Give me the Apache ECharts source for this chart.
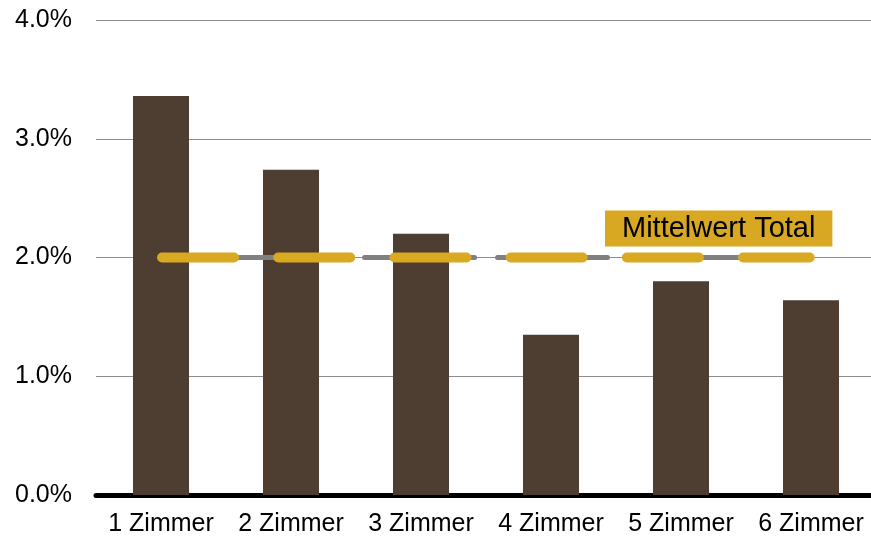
<!DOCTYPE html>
<html>
<head>
<meta charset="utf-8">
<script src="https://cdn.jsdelivr.net/npm/echarts@6/dist/echarts.min.js"></script>
<style>html,body{margin:0;padding:0;background:#fff}#c{width:871px;height:541px}</style>
</head>
<body>
<div id="c"></div>
<script>
const categories = ['1 Zimmer', '2 Zimmer', '3 Zimmer', '4 Zimmer', '5 Zimmer', '6 Zimmer'];
const values = [3.36, 2.74, 2.20, 1.35, 1.80, 1.64];
const yTicks = [0, 1, 2, 3, 4];
const meanValue = 2.0;
const meanLabel = 'Mittelwert Total';
const meanSpan = [0.508, 5.49];   // extent of the mean line along the category axis (in category units)
const meanLabelAt = 4.79;

const FONT = 'Liberation Sans, Arial, sans-serif';
const chart = echarts.init(document.getElementById('c'), null, {renderer: 'canvas'});
chart.setOption({
  animation: false,
  backgroundColor: '#ffffff',
  grid: {left: 96, width: 780, top: 20, bottom: 46, containLabel: false, outerBoundsMode: 'none'},
  xAxis: [
    {
      type: 'category', data: categories,
      axisLine: {show: true, lineStyle: {color: '#000', width: 5}},
      axisTick: {show: false},
      axisLabel: {color: '#000', fontFamily: FONT, fontSize: 25, margin: 17, interval: 0}
    },
    {type: 'value', min: 0, max: categories.length, show: false, position: 'bottom'}
  ],
  yAxis: {
    type: 'value', min: yTicks[0], max: yTicks[yTicks.length - 1], interval: 1,
    axisLine: {show: false}, axisTick: {show: false},
    axisLabel: {color: '#000', fontFamily: FONT, fontSize: 25, margin: 24,
      formatter: v => v.toFixed(1) + '%'},
    splitLine: {show: true, lineStyle: {color: '#8c8c8c', width: 1}}
  },
  series: [
    {
      type: 'bar', data: values, barWidth: 56,
      itemStyle: {color: '#4e3d31'}, z: 2
    },
    {
      type: 'line', xAxisIndex: 1, symbol: 'none', z: 3,
      data: [[meanSpan[0], meanValue], [meanSpan[1], meanValue]],
      lineStyle: {color: '#808080', width: 5, type: [110, 23], dashOffset: 63.5, cap: 'round'}
    },
    {
      type: 'line', xAxisIndex: 1, symbol: 'none', z: 4,
      data: [[meanSpan[0], meanValue], [meanSpan[1], meanValue]],
      lineStyle: {color: '#daa922', width: 10, type: [72, 44.2], dashOffset: 0, cap: 'round'},
      markPoint: {
        symbol: 'rect', symbolSize: 0,
        data: [{coord: [meanLabelAt, meanValue], value: meanLabel}],
        label: {
          show: true, position: 'inside', offset: [0, -29],
          formatter: meanLabel,
          color: '#000', fontFamily: FONT, fontSize: 29, lineHeight: 28,
          backgroundColor: '#d9a822', padding: [4, 17, 4, 17]
        }
      }
    }
  ]
});
</script>
</body>
</html>
